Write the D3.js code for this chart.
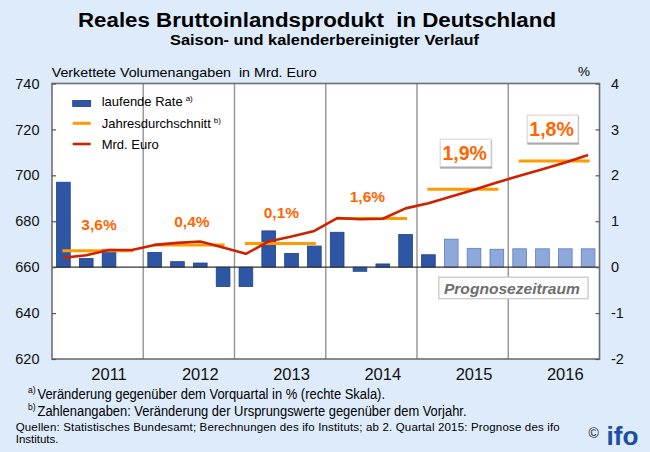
<!DOCTYPE html>
<html><head><meta charset="utf-8">
<script src="https://cdn.jsdelivr.net/npm/d3@7"></script>
<style>
html,body{margin:0;padding:0;background:#DDEBFA;}
svg{display:block;font-family:"Liberation Sans",Arial,sans-serif;}
text{white-space:pre;}
</style></head><body>
<svg id="c" width="650" height="452"></svg>
<script>
// ---------- data ----------
const quarters = ["2011 Q1","2011 Q2","2011 Q3","2011 Q4","2012 Q1","2012 Q2","2012 Q3","2012 Q4",
  "2013 Q1","2013 Q2","2013 Q3","2013 Q4","2014 Q1","2014 Q2","2014 Q3","2014 Q4",
  "2015 Q1","2015 Q2","2015 Q3","2015 Q4","2016 Q1","2016 Q2","2016 Q3","2016 Q4"];
const rate = [1.85, 0.19, 0.39, 0.0, 0.32, 0.12, 0.09, -0.42, -0.42, 0.79, 0.30, 0.46,
  0.76, -0.09, 0.07, 0.71, 0.27, 0.61, 0.41, 0.39, 0.40, 0.40, 0.40, 0.40];
const forecastFrom = "2015 Q2";
const gdp = [664.1, 665.2, 667.5, 667.5, 669.7, 670.6, 671.2, 668.6, 665.8, 671.2, 673.4, 675.8,
  681.4, 680.9, 681.1, 685.6, 687.8, 690.8, 693.7, 696.9, 699.8, 702.7, 705.6, 708.9];
const years = ["2011","2012","2013","2014","2015","2016"];
const yearAvg = [667.1, 669.7, 670.3, 681.2, 693.9, 706.2];
const yearGrowth = ["3,6%","0,4%","0,1%","1,6%","1,9%","1,8%"];
const leftTicks = [620, 640, 660, 680, 700, 720, 740];
const rightTicks = [-2, -1, 0, 1, 2, 3, 4];

// ---------- layout ----------
const svg = d3.select("#c");
const m = {l: 52, r: 599.5, t: 83.5, b: 359};
const x = d3.scaleBand().domain(quarters).range([m.l, m.r]).paddingInner(0.4).paddingOuter(0.2);
const yL = d3.scaleLinear().domain([620, 740]).range([m.b, m.t]);
const yR = d3.scaleLinear().domain([-2, 4]).range([m.b, m.t]);
const xc = q => x(q) + x.bandwidth() / 2;
const yearStart = i => m.l + i * 4 * x.step();
const fIdx = quarters.indexOf(forecastFrom);

// titles
svg.append("text").attr("x", 78).attr("y", 27.3).attr("font-size", 20).attr("font-weight", "bold")
  .attr("textLength", 478).attr("lengthAdjust", "spacingAndGlyphs")
  .text("Reales Bruttoinlandsprodukt  in Deutschland");
svg.append("text").attr("x", 170).attr("y", 44.5).attr("font-size", 14.5).attr("font-weight", "bold")
  .attr("textLength", 309).attr("lengthAdjust", "spacingAndGlyphs")
  .text("Saison- und kalenderbereinigter Verlauf");
svg.append("text").attr("x", 51.7).attr("y", 76.5).attr("font-size", 13.5)
  .attr("textLength", 265).attr("lengthAdjust", "spacingAndGlyphs")
  .text("Verkettete Volumenangaben  in Mrd. Euro");
svg.append("text").attr("x", 590).attr("y", 75.7).attr("font-size", 13.5).attr("text-anchor", "end").text("%");

// plot background
svg.append("rect").attr("x", m.l).attr("y", m.t).attr("width", m.r - m.l).attr("height", m.b - m.t).attr("fill", "#fff");

// year dividers
for (let i = 1; i < years.length; i++) {
  svg.append("line").attr("x1", yearStart(i)).attr("x2", yearStart(i)).attr("y1", m.t).attr("y2", m.b)
    .attr("stroke", "#9a9a9a").attr("stroke-width", 1.5);
}

// bars
svg.append("g").selectAll("rect").data(quarters).join("rect")
  .attr("x", q => x(q)).attr("width", x.bandwidth())
  .attr("y", (q, i) => yR(Math.max(0, rate[i])))
  .attr("height", (q, i) => Math.abs(yR(rate[i]) - yR(0)))
  .attr("fill", (q, i) => i >= fIdx ? "#8EA8DB" : "#2D57A4")
  .attr("stroke", (q, i) => i >= fIdx ? "#5B7CC0" : "#1E3F86")
  .attr("stroke-width", 0.8);

// zero line
svg.append("line").attr("x1", m.l).attr("x2", m.r).attr("y1", yR(0)).attr("y2", yR(0))
  .attr("stroke", "#333").attr("stroke-width", 1.3);

// prognose box
const pbx = xc(quarters[fIdx]) - 12.5, pbr = xc(quarters[quarters.length - 1]);
svg.append("rect").attr("x", pbx).attr("y", yR(0) + 10).attr("width", pbr - pbx).attr("height", 21.5)
  .attr("fill", "#fdfdfd").attr("stroke", "#cfcfcf").attr("stroke-width", 1.5);
svg.append("text").attr("x", (pbx + pbr) / 2 - 1.5).attr("y", yR(0) + 26.5).attr("text-anchor", "middle")
  .attr("font-size", 15.5).attr("font-weight", "bold").attr("font-style", "italic").attr("fill", "#6e6e6e")
  .attr("textLength", 136).attr("lengthAdjust", "spacingAndGlyphs").text("Prognosezeitraum");

// annual average lines
svg.append("g").selectAll("line").data(years).join("line")
  .attr("x1", (d, i) => xc(quarters[i * 4]) - 1)
  .attr("x2", (d, i) => xc(quarters[i * 4 + 3]) + 1.5)
  .attr("y1", (d, i) => yL(yearAvg[i])).attr("y2", (d, i) => yL(yearAvg[i]))
  .attr("stroke", "#FF9A00").attr("stroke-width", 3);

// GDP line
svg.append("path").datum(gdp)
  .attr("d", d3.line().x((d, i) => xc(quarters[i])).y(d => yL(d)))
  .attr("fill", "none").attr("stroke", "#CC2200").attr("stroke-width", 2.6).attr("stroke-linejoin", "round");

// growth labels (annotation placement)
const labelDx = [1.4, 3, 1.3, -4, 2, -2.3];
const labelDy = [26, 23.3, 31.3, 22.3, 36.2, 32];
years.forEach((yr, i) => {
  const cx = (yearStart(i) + yearStart(i + 1)) / 2 + labelDx[i];
  const cy = yL(yearAvg[i]) - labelDy[i];
  const big = i >= 4;
  const fs = big ? 19.5 : 15.5;
  if (big) {
    svg.append("rect").attr("x", cx - 24.5).attr("y", cy - 13).attr("width", 52).attr("height", 28.5).attr("fill", "#a6a6a6");
    svg.append("rect").attr("x", cx - 24.5).attr("y", cy - 14).attr("width", 51).attr("height", 27.5)
      .attr("fill", "#fff").attr("stroke", "#d2d2d2").attr("stroke-width", 1);
  }
  svg.append("text").attr("x", cx).attr("y", cy + fs * 0.36).attr("text-anchor", "middle")
    .attr("font-size", fs).attr("font-weight", "bold").attr("fill", "#FF6600").text(yearGrowth[i]);
});

// frame
svg.append("rect").attr("x", m.l).attr("y", m.t).attr("width", m.r - m.l).attr("height", m.b - m.t)
  .attr("fill", "none").attr("stroke", "#6f6f6f").attr("stroke-width", 1.6);

// axes
const axL = svg.append("g").attr("transform", `translate(${m.l},0)`)
  .call(d3.axisLeft(yL).tickValues(leftTicks).tickSizeInner(-4).tickSizeOuter(0).tickPadding(12.5).tickFormat(d => String(d)));
const axR = svg.append("g").attr("transform", `translate(${m.r},0)`)
  .call(d3.axisRight(yR).tickValues(rightTicks).tickSizeInner(-4).tickSizeOuter(0).tickPadding(11.5).tickFormat(d => String(d)));
[axL, axR].forEach(a => {
  a.select(".domain").remove();
  a.selectAll("line").attr("stroke", "#555").attr("stroke-width", 1.2);
  a.selectAll("text").attr("font-size", 14.5).attr("fill", "#111")
    .attr("font-family", "'Liberation Sans',Arial,sans-serif");
});

// year labels
svg.append("g").selectAll("text").data(years).join("text")
  .attr("x", (d, i) => xc(quarters[i * 4 + 2])).attr("y", 380)
  .attr("text-anchor", "middle").attr("font-size", 16.5).attr("fill", "#111").text(d => d);

// legend
const lg = svg.append("g");
lg.append("rect").attr("x", 72.7).attr("y", 100.5).attr("width", 18).attr("height", 6)
  .attr("fill", "#2D57A4").attr("stroke", "#1E3F86").attr("stroke-width", 0.8);
lg.append("line").attr("x1", 72.7).attr("x2", 90.7).attr("y1", 123.3).attr("y2", 123.3).attr("stroke", "#FF9A00").attr("stroke-width", 3);
lg.append("line").attr("x1", 72.7).attr("x2", 90.7).attr("y1", 144).attr("y2", 144).attr("stroke", "#CC2200").attr("stroke-width", 2.6);
const t1 = lg.append("text").attr("x", 101.7).attr("y", 106).attr("font-size", 13);
t1.append("tspan").text("laufende Rate");
t1.append("tspan").attr("dx", 3).attr("dy", -5).attr("font-size", 8).text("a)");
const t2 = lg.append("text").attr("x", 101.7).attr("y", 128).attr("font-size", 13);
t2.append("tspan").text("Jahresdurchschnitt");
t2.append("tspan").attr("dx", 3).attr("dy", -5).attr("font-size", 8).text("b)");
lg.append("text").attr("x", 101.7).attr("y", 149).attr("font-size", 13).text("Mrd. Euro");

// footnotes
svg.append("text").attr("x", 28).attr("y", 393).attr("font-size", 8.5).text("a)");
svg.append("text").attr("x", 37.5).attr("y", 399).attr("font-size", 14)
  .attr("textLength", 347.5).attr("lengthAdjust", "spacingAndGlyphs")
  .text("Veränderung gegenüber dem Vorquartal in % (rechte Skala).");
svg.append("text").attr("x", 28).attr("y", 410).attr("font-size", 8.5).text("b)");
svg.append("text").attr("x", 37.5).attr("y", 416).attr("font-size", 14)
  .attr("textLength", 429).attr("lengthAdjust", "spacingAndGlyphs")
  .text("Zahlenangaben: Veränderung der Ursprungswerte gegenüber dem Vorjahr.");
svg.append("text").attr("x", 15.7).attr("y", 431).attr("font-size", 11.5)
  .attr("textLength", 544).attr("lengthAdjust", "spacing")
  .text("Quellen: Statistisches Bundesamt; Berechnungen des ifo Instituts; ab 2. Quartal 2015: Prognose des ifo");
svg.append("text").attr("x", 15.7).attr("y", 443).attr("font-size", 11.5).text("Instituts.");

// ifo logo
svg.append("text").attr("x", 588.5).attr("y", 438).attr("font-size", 14).attr("fill", "#222").text("©");
svg.append("text").attr("x", 606.5).attr("y", 445).attr("font-size", 26).attr("font-weight", "900")
  .attr("fill", "#1F4E9E").attr("textLength", 32).attr("lengthAdjust", "spacingAndGlyphs").text("ifo");
</script>
</body></html>
